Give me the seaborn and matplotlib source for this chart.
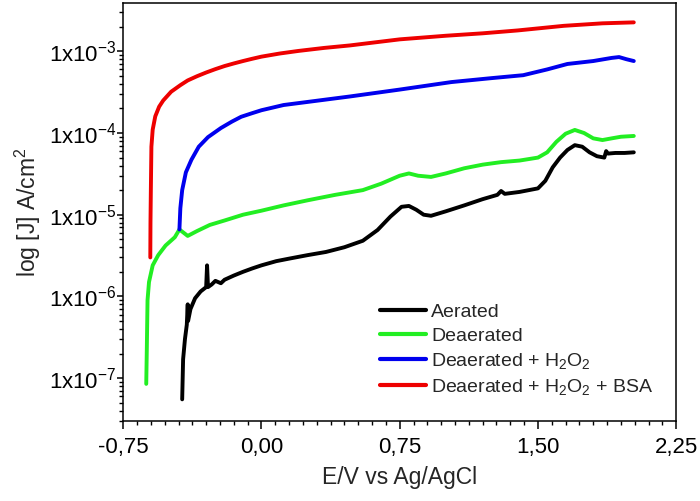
import numpy as np
import pandas as pd
import matplotlib
matplotlib.use("Agg")
import matplotlib.pyplot as plt
import seaborn as sns
from matplotlib.ticker import FixedLocator, MultipleLocator, FuncFormatter, LogLocator, NullFormatter

# series (E in V vs Ag/AgCl, J in A/cm2)
aerated_e = [-0.430, -0.425, -0.415, -0.405, -0.400, -0.398, -0.385, -0.360, -0.330, -0.300,
             -0.295, -0.290, -0.270, -0.250, -0.220, -0.200, -0.150, -0.100, -0.050, 0.000,
             0.080, 0.150, 0.250, 0.350, 0.450, 0.550, 0.630, 0.700, 0.760, 0.800,
             0.840, 0.880, 0.920, 1.000, 1.100, 1.200, 1.280, 1.300, 1.320, 1.400,
             1.500, 1.540, 1.580, 1.620, 1.660, 1.700, 1.740, 1.780, 1.820, 1.860,
             1.870, 1.880, 1.920, 1.970, 2.020]
aerated_j = [5.5e-8, 1.7e-7, 3.0e-7, 4.5e-7, 8.0e-7, 5.0e-7, 7.0e-7, 9.5e-7, 1.15e-6, 1.3e-6,
             2.4e-6, 1.3e-6, 1.4e-6, 1.55e-6, 1.45e-6, 1.6e-6, 1.8e-6, 2.0e-6, 2.2e-6, 2.4e-6,
             2.7e-6, 2.9e-6, 3.2e-6, 3.5e-6, 4.0e-6, 4.8e-6, 6.5e-6, 9.5e-6, 1.25e-5, 1.28e-5,
             1.15e-5, 1.0e-5, 9.7e-6, 1.1e-5, 1.3e-5, 1.55e-5, 1.75e-5, 1.95e-5, 1.8e-5, 1.9e-5,
             2.1e-5, 2.6e-5, 3.8e-5, 5.0e-5, 6.2e-5, 7.1e-5, 6.8e-5, 5.8e-5, 5.2e-5, 5.0e-5,
             6.0e-5, 5.6e-5, 5.7e-5, 5.7e-5, 5.8e-5]

deaer_e = [-0.625, -0.622, -0.618, -0.610, -0.590, -0.560, -0.520, -0.470, -0.445, -0.400,
           -0.350, -0.280, -0.200, -0.100, 0.000, 0.120, 0.250, 0.400, 0.550, 0.650,
           0.750, 0.800, 0.850, 0.920, 1.000, 1.100, 1.200, 1.300, 1.400, 1.500,
           1.550, 1.600, 1.650, 1.700, 1.750, 1.800, 1.850, 1.900, 1.950, 2.020]
deaer_j = [8.5e-8, 2.2e-7, 9.0e-7, 1.5e-6, 2.4e-6, 3.2e-6, 4.2e-6, 5.3e-6, 6.6e-6, 5.5e-6,
           6.3e-6, 7.5e-6, 8.5e-6, 1.0e-5, 1.12e-5, 1.3e-5, 1.5e-5, 1.75e-5, 2.0e-5, 2.4e-5,
           3.0e-5, 3.2e-5, 3.0e-5, 2.9e-5, 3.2e-5, 3.7e-5, 4.1e-5, 4.4e-5, 4.6e-5, 5.0e-5,
           5.8e-5, 7.8e-5, 9.8e-5, 1.09e-4, 1.0e-4, 8.6e-5, 8.2e-5, 8.6e-5, 9.0e-5, 9.2e-5]

h2o2_e = [-0.445, -0.440, -0.430, -0.410, -0.380, -0.340, -0.290, -0.220, -0.160, -0.110,
          -0.050, 0.000, 0.120, 0.250, 0.480, 0.750, 1.030, 1.250, 1.420, 1.550,
          1.660, 1.800, 1.900, 1.940, 1.980, 2.020]
h2o2_j = [6.6e-6, 1.2e-5, 2.0e-5, 3.3e-5, 4.7e-5, 6.8e-5, 8.9e-5, 1.15e-4, 1.38e-4, 1.58e-4,
          1.75e-4, 1.9e-4, 2.2e-4, 2.4e-4, 2.8e-4, 3.4e-4, 4.2e-4, 4.7e-4, 5.1e-4, 6.0e-4,
          7.0e-4, 7.6e-4, 8.3e-4, 8.5e-4, 8.0e-4, 7.6e-4]

bsa_e = [-0.603, -0.602, -0.600, -0.597, -0.590, -0.576, -0.555, -0.533, -0.490, -0.440,
         -0.400, -0.350, -0.300, -0.250, -0.200, -0.150, -0.100, -0.050, 0.000, 0.100,
         0.200, 0.340, 0.480, 0.750, 1.000, 1.200, 1.390, 1.640, 1.850, 2.020]
bsa_j = [3.0e-6, 8.0e-6, 2.0e-5, 6.8e-5, 1.1e-4, 1.6e-4, 2.1e-4, 2.5e-4, 3.2e-4, 3.85e-4,
         4.4e-4, 4.95e-4, 5.5e-4, 6.05e-4, 6.6e-4, 7.1e-4, 7.6e-4, 8.1e-4, 8.6e-4, 9.4e-4,
         1.01e-3, 1.1e-3, 1.18e-3, 1.4e-3, 1.55e-3, 1.66e-3, 1.8e-3, 2.05e-3, 2.2e-3, 2.26e-3]

labels = ["Aerated", "Deaerated", r"Deaerated + H$_2$O$_2$", r"Deaerated + H$_2$O$_2$ + BSA"]
colors = ["#000000", "#22ee22", "#0000ee", "#ee0000"]
x_ticks = [-0.75, 0.0, 0.75, 1.50, 2.25]
y_ticks = [1e-7, 1e-6, 1e-5, 1e-4, 1e-3]
y_tick_labels = [r"1x10$^{-7}$", r"1x10$^{-6}$", r"1x10$^{-5}$", r"1x10$^{-4}$", r"1x10$^{-3}$"]

frames = []
for lab, e, j in zip(labels, [aerated_e, deaer_e, h2o2_e, bsa_e], [aerated_j, deaer_j, h2o2_j, bsa_j]):
    frames.append(pd.DataFrame({"E": e, "J": j, "series": lab}))
df = pd.concat(frames, ignore_index=True)

sns.set_theme(style="ticks")
plt.rcParams["font.family"] = ["Liberation Sans", "DejaVu Sans"]
plt.rcParams["mathtext.fontset"] = "custom"
plt.rcParams["mathtext.rm"] = "Liberation Sans"
plt.rcParams["mathtext.it"] = "Liberation Sans:italic"
plt.rcParams["mathtext.bf"] = "Liberation Sans:bold"

fig = plt.figure(figsize=(7.0, 5.01), dpi=100)
ax = fig.add_axes([0.176, 0.160, 0.790, 0.834])

sns.lineplot(data=df, x="E", y="J", hue="series", palette=dict(zip(labels, colors)),
             hue_order=labels, sort=False, estimator=None, linewidth=2.8, ax=ax)

ax.set_yscale("log")
ax.set_xlim(-0.75, 2.25)
ax.set_ylim(3e-8, 3.9e-3)

ax.xaxis.set_major_locator(FixedLocator(x_ticks))
ax.xaxis.set_minor_locator(MultipleLocator(0.075))
ax.xaxis.set_major_formatter(FuncFormatter(lambda v, p: f"{v:.2f}".replace(".", ",")))
ax.yaxis.set_major_locator(FixedLocator(y_ticks))
ax.yaxis.set_major_formatter(FuncFormatter(lambda v, p: y_tick_labels[y_ticks.index(min(y_ticks, key=lambda t: abs(np.log10(t) - np.log10(v))))]))
ax.yaxis.set_minor_locator(LogLocator(base=10, subs=np.arange(2, 10), numticks=20))
ax.yaxis.set_minor_formatter(NullFormatter())

ax.tick_params(axis="x", which="major", direction="out", length=5.5, width=1.1,
               labelsize=16, colors="black", pad=6)
ax.tick_params(axis="y", which="major", direction="out", length=4, width=1.1,
               labelsize=16, colors="black", pad=1)
ax.tick_params(axis="both", which="minor", direction="out", length=3, width=1, colors="black")
for s in ax.spines.values():
    s.set_linewidth(1.1)
    s.set_color("black")

ax.set_xlabel("E/V vs Ag/AgCl", fontsize=16.5, labelpad=6)
ax.set_ylabel(r"log [J] A/cm$^2$", fontsize=16.5, labelpad=4)

ax.legend(loc="upper left", bbox_to_anchor=(0.45, 0.30), frameon=False, fontsize=14,
          handlelength=2.4, handletextpad=0.25, labelspacing=0.32, borderaxespad=0)
for line in ax.get_legend().get_lines():
    line.set_linewidth(3)

fig.savefig("out.png", dpi=100)
